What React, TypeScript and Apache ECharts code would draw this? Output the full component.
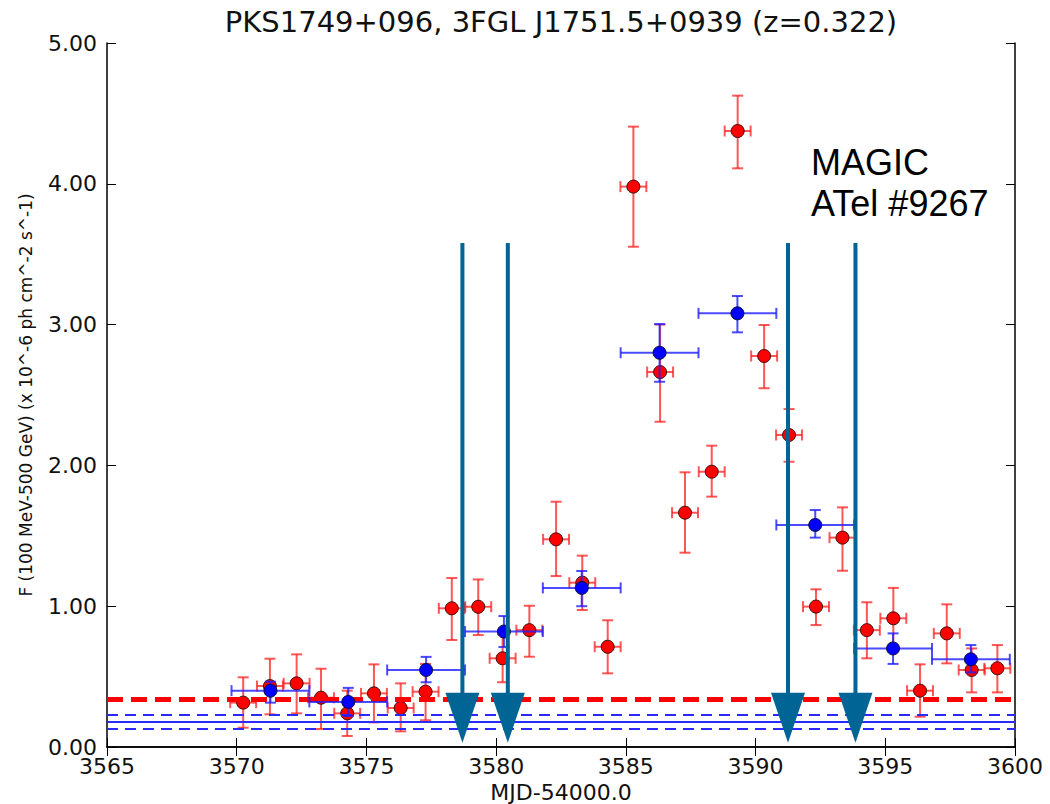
import React, { useEffect, useRef } from "react";
import * as echarts from "echarts";

// ---- data ----
const redX = [3570.25, 3571.28, 3572.31, 3573.25, 3574.26, 3575.29, 3576.32, 3577.28, 3578.29, 3579.31, 3580.25, 3581.28, 3582.31, 3583.32, 3584.30, 3585.29, 3586.32, 3587.28, 3588.31, 3589.31, 3590.33, 3591.29, 3592.33, 3593.35, 3594.29, 3595.31, 3596.34, 3597.37, 3598.33, 3599.32];
const redY = [0.315, 0.433, 0.452, 0.35, 0.239, 0.381, 0.277, 0.393, 0.985, 0.996, 0.63, 0.83, 1.475, 1.167, 0.712, 3.98, 2.663, 1.664, 1.955, 4.375, 2.777, 2.216, 0.997, 1.487, 0.83, 0.914, 0.40, 0.807, 0.547, 0.559];
const redLo = [0.137, 0.232, 0.239, 0.128, 0.078, 0.175, 0.111, 0.19, 0.76, 0.795, 0.46, 0.641, 1.214, 0.973, 0.523, 3.553, 2.31, 1.38, 1.778, 4.11, 2.548, 2.026, 0.866, 1.252, 0.63, 0.70, 0.215, 0.594, 0.388, 0.388];
const redHi = [0.495, 0.627, 0.658, 0.556, 0.40, 0.587, 0.452, 0.59, 1.20, 1.19, 0.80, 1.003, 1.742, 1.359, 0.90, 4.406, 3.0, 1.951, 2.14, 4.626, 2.997, 2.40, 1.12, 1.702, 1.028, 1.13, 0.587, 1.013, 0.70, 0.724];
const redXErr = 0.5;

const blueX = [3571.3, 3574.3, 3577.3, 3580.3, 3583.3, 3586.3, 3589.3, 3592.3, 3595.3, 3598.3];
const blueY = [0.40, 0.32, 0.547, 0.82, 1.13, 2.80, 3.08, 1.577, 0.70, 0.623];
const blueLo = [0.315, 0.22, 0.46, 0.71, 1.00, 2.594, 2.945, 1.487, 0.59, 0.53];
const blueHi = [0.464, 0.42, 0.64, 0.93, 1.25, 3.004, 3.203, 1.683, 0.807, 0.724];
const blueXErr = 1.5;

const redLevel = 0.345;
const blueLevel = 0.185;
const blueBand = [0.133, 0.234];

const arrowX = [3578.7, 3580.45, 3591.25, 3593.85];
const arrowTop = 3.58;
const arrowHeadTop = 0.386;
const arrowTip = 0.03;

const xTicks = [3565, 3570, 3575, 3580, 3585, 3590, 3595, 3600];
const yTickLabels = ["0.00", "1.00", "2.00", "3.00", "4.00", "5.00"];

const titleText = "PKS1749+096, 3FGL J1751.5+0939 (z=0.322)";
const xName = "MJD-54000.0";
const yName = "F (100 MeV-500 GeV) (x 10^-6 ph cm^-2 s^-1)";
const note = ["MAGIC", "ATel #9267"];

const FONT = "DejaVu Sans";

function errRender(color: string) {
  return (params: any, api: any) => {
    const x = api.value(0), y = api.value(1);
    const xl = api.value(2), xh = api.value(3), yl = api.value(4), yh = api.value(5);
    const c = api.coord([x, y]);
    const pxl = api.coord([xl, y])[0];
    const pxh = api.coord([xh, y])[0];
    const pyl = api.coord([x, yl])[1];
    const pyh = api.coord([x, yh])[1];
    const style = { stroke: color, lineWidth: 2 };
    const cap = 5.5;
    return {
      type: "group",
      children: [
        { type: "line", shape: { x1: pxl, y1: c[1], x2: pxh, y2: c[1] }, style },
        { type: "line", shape: { x1: pxl, y1: c[1] - cap, x2: pxl, y2: c[1] + cap }, style },
        { type: "line", shape: { x1: pxh, y1: c[1] - cap, x2: pxh, y2: c[1] + cap }, style },
        { type: "line", shape: { x1: c[0], y1: pyl, x2: c[0], y2: pyh }, style },
        { type: "line", shape: { x1: c[0] - cap, y1: pyl, x2: c[0] + cap, y2: pyl }, style },
        { type: "line", shape: { x1: c[0] - cap, y1: pyh, x2: c[0] + cap, y2: pyh }, style },
      ],
    };
  };
}

export default function App() {
  const ref = useRef<HTMLDivElement>(null);
  useEffect(() => {
    if (!ref.current) return;
    const chart = echarts.init(ref.current, undefined, { renderer: "svg" });
    const redErr = redX.map((x, i) => [x, redY[i], x - redXErr, x + redXErr, redLo[i], redHi[i]]);
    const blueErr = blueX.map((x, i) => [x, blueY[i], x - blueXErr, x + blueXErr, blueLo[i], blueHi[i]]);
    const axisLine = { show: true, lineStyle: { color: "#000", width: 1.5 } };
    const tick = { show: true, inside: true, length: 9, lineStyle: { color: "#000", width: 1 } };
    const plotCX = (107 + 1015) / 2;
    chart.setOption({
      animation: false,
      backgroundColor: "#fff",
      grid: { left: 107, right: 35, top: 43, bottom: 57, containLabel: false, outerBoundsMode: "none" },
      xAxis: [
        {
          type: "value", min: 3565, max: 3600, interval: 5, position: "bottom",
          axisLine, axisTick: tick, splitLine: { show: false },
          axisLabel: { fontFamily: FONT, fontSize: 22, color: "#111", margin: 8,
            formatter: (v: number) => (xTicks.indexOf(v) >= 0 ? String(v) : "") },
          name: xName, nameLocation: "middle", nameGap: 30,
          nameTextStyle: { fontFamily: FONT, fontSize: 22, lineHeight: 22, color: "#111" },
        },
        {
          type: "value", min: 3565, max: 3600, interval: 5, position: "top",
          axisLine, axisTick: tick, axisLabel: { show: false }, splitLine: { show: false },
        },
      ],
      yAxis: [
        {
          type: "value", min: 0, max: 5, interval: 1, position: "left",
          axisLine, axisTick: tick, splitLine: { show: false },
          axisLabel: { fontFamily: FONT, fontSize: 22, color: "#111", margin: 10,
            formatter: (v: number) => yTickLabels[Math.round(v)] },
          name: yName, nameLocation: "middle", nameGap: 73, nameRotate: 90,
          nameTextStyle: { fontFamily: FONT, fontSize: 17, color: "#111" },
        },
        {
          type: "value", min: 0, max: 5, interval: 1, position: "right",
          axisLine, axisTick: tick, axisLabel: { show: false }, splitLine: { show: false },
        },
      ],
      graphic: [
        { type: "text", x: plotCX, y: 22, style: { text: titleText, fontFamily: FONT, fontSize: 29, fill: "#111", align: "center", verticalAlign: "middle" } },
        { type: "text", x: 811, y: 162, style: { text: note[0], fontFamily: "Liberation Sans", fontSize: 36, fill: "#000", align: "left", verticalAlign: "middle" } },
        { type: "text", x: 811, y: 203, style: { text: note[1], fontFamily: "Liberation Sans", fontSize: 36, fill: "#000", align: "left", verticalAlign: "middle" } },
      ],
      series: [
        {
          type: "line", data: [], xAxisIndex: 0, yAxisIndex: 0, silent: true,
          markLine: {
            symbol: "none", silent: true, label: { show: false },
            data: [
              { yAxis: blueBand[0], lineStyle: { color: "#2a2aff", width: 2, type: [11, 7] } },
              { yAxis: blueBand[1], lineStyle: { color: "#2a2aff", width: 2, type: [11, 7] } },
              { yAxis: blueLevel, lineStyle: { color: "#2a2aff", width: 2, type: "solid" } },
              { yAxis: redLevel, lineStyle: { color: "#ff0000", width: 5, type: [16, 8] } },
            ],
          },
        },
        {
          type: "custom", renderItem: errRender("rgba(255,30,30,0.75)"), data: redErr,
          encode: { x: [0, 2, 3], y: [1, 4, 5] }, z: 3, silent: true,
        },
        {
          type: "scatter", data: redX.map((x, i) => [x, redY[i]]), symbol: "circle", symbolSize: 13,
          itemStyle: { color: "#ff0000", opacity: 1, borderColor: "#3a1010", borderWidth: 1 }, z: 4, silent: true,
        },
        {
          type: "custom", renderItem: errRender("rgba(30,30,255,0.8)"), data: blueErr,
          encode: { x: [0, 2, 3], y: [1, 4, 5] }, z: 5, silent: true,
        },
        {
          type: "scatter", data: blueX.map((x, i) => [x, blueY[i]]), symbol: "circle", symbolSize: 13,
          itemStyle: { color: "#0000ff", opacity: 1, borderColor: "#101030", borderWidth: 1 }, z: 6, silent: true,
        },
        {
          type: "custom", data: arrowX.map((x) => [x]), z: 7, silent: true,
          encode: { x: 0 },
          renderItem: (params: any, api: any) => {
            const x = api.value(0);
            const top = api.coord([x, arrowTop]);
            const head = api.coord([x, arrowHeadTop]);
            const tip = api.coord([x, arrowTip]);
            const color = "#006495";
            return {
              type: "group",
              children: [
                { type: "line", shape: { x1: top[0], y1: top[1], x2: head[0], y2: head[1] + 2 }, style: { stroke: color, lineWidth: 4 } },
                { type: "polygon", shape: { points: [[head[0] - 17, head[1]], [head[0] + 17, head[1]], [tip[0], tip[1]]] }, style: { fill: color } },
              ],
            };
          },
        },
      ],
    });
    return () => chart.dispose();
  }, []);
  return <div ref={ref} style={{ position: "fixed", left: 0, top: 0, width: 1050, height: 804, background: "#fff" }} />;
}
